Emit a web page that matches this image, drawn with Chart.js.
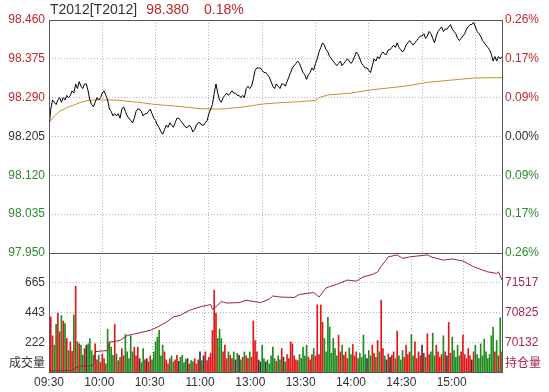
<!DOCTYPE html>
<html>
<head>
<meta charset="utf-8">
<script src="https://cdn.jsdelivr.net/npm/chart.js@4.4.0/dist/chart.umd.min.js"></script>
<style>
  html, body { margin: 0; padding: 0; background: #fff; }
  #wrap { position: relative; width: 549px; height: 392px; overflow: hidden; background: #fff; }
  #wrap canvas { position: absolute; left: 0; }
  #title { position: absolute; left: 50px; top: 1px; font: 14px 'Liberation Sans', 'Noto Sans CJK SC', sans-serif; color: #333; white-space: nowrap; }
  #title .up { color: #c0282d; }
</style>
</head>
<body>
<div id="wrap">
  <canvas id="priceChart" width="549" height="262" style="top:0"></canvas>
  <canvas id="volChart" width="549" height="152" style="top:240px"></canvas>
  <div id="title">T2012[T2012]<span class="up" id="lastPrice" style="margin-left:9px"></span><span class="up" id="lastPct" style="margin-left:15px"></span></div>
</div>
<script>
// previous settlement = 0.00% line
const PRE_SETTLE = 98.205;
const LAST_MINUTE = 255;

const timeLabels = ["09:30", "10:00", "10:30", "11:00", "13:00", "13:30", "14:00", "14:30", "15:00"];
const gridMinutes = [30, 60, 90, 120, 150, 180, 210, 240];

const priceTicks = [97.950, 98.035, 98.120, 98.205, 98.290, 98.375, 98.460];
const priceLabels = ["97.950", "98.035", "98.120", "98.205", "98.290", "98.375", "98.460"];
const pctLabels = ["0.26%", "0.17%", "0.09%", "0.00%", "0.09%", "0.17%", "0.26%"];

const VOL_MAX = 887;
const volTicks = [64, 222, 443, 665];
const volLabels = ["成交量", "222", "443", "665"];

const OI_MIN = 69440, OI_MAX = 72210;
const oiTicks = [69636, 70132, 70825, 71517];
const oiLabels = ["持仓量", "70132", "70825", "71517"];

// one price per minute, 09:30 .. 15:15
const price = [
  98.225, 98.265, 98.285, 98.280, 98.275, 98.285, 98.290, 98.280, 98.290, 98.285,
  98.295, 98.290, 98.295, 98.305, 98.300, 98.320, 98.310, 98.325, 98.315, 98.310,
  98.320, 98.320, 98.305, 98.285, 98.275, 98.270, 98.280, 98.290, 98.285, 98.290,
  98.300, 98.305, 98.295, 98.285, 98.265, 98.260, 98.250, 98.255, 98.250, 98.255,
  98.245, 98.265, 98.270, 98.260, 98.250, 98.245, 98.240, 98.235, 98.245, 98.260,
  98.265, 98.265, 98.260, 98.250, 98.255, 98.255, 98.260, 98.265, 98.255, 98.245,
  98.240, 98.230, 98.225, 98.215, 98.210, 98.220, 98.230, 98.225, 98.235, 98.230,
  98.225, 98.235, 98.245, 98.245, 98.240, 98.235, 98.230, 98.225, 98.225, 98.230,
  98.225, 98.215, 98.220, 98.230, 98.235, 98.235, 98.230, 98.230, 98.235, 98.240,
  98.255, 98.265, 98.275, 98.300, 98.320, 98.300, 98.285, 98.280, 98.290, 98.295,
  98.300, 98.295, 98.300, 98.305, 98.300, 98.300, 98.295, 98.295, 98.290, 98.295,
  98.290, 98.310, 98.315, 98.310, 98.315, 98.330, 98.350, 98.355, 98.355, 98.355,
  98.350, 98.345, 98.345, 98.340, 98.335, 98.325, 98.315, 98.310, 98.320, 98.315,
  98.310, 98.320, 98.320, 98.315, 98.325, 98.335, 98.345, 98.355, 98.360, 98.365,
  98.370, 98.365, 98.355, 98.345, 98.340, 98.330, 98.340, 98.345, 98.355, 98.350,
  98.365, 98.375, 98.390, 98.400, 98.410, 98.405, 98.395, 98.390, 98.380, 98.375,
  98.370, 98.365, 98.360, 98.365, 98.370, 98.360, 98.365, 98.370, 98.375, 98.370,
  98.365, 98.370, 98.380, 98.390, 98.385, 98.375, 98.365, 98.360, 98.355, 98.355,
  98.350, 98.345, 98.360, 98.375, 98.370, 98.380, 98.375, 98.385, 98.390, 98.385,
  98.385, 98.395, 98.395, 98.400, 98.405, 98.400, 98.410, 98.400, 98.395, 98.390,
  98.395, 98.405, 98.410, 98.415, 98.410, 98.405, 98.410, 98.415, 98.420, 98.425,
  98.425, 98.430, 98.420, 98.425, 98.435, 98.430, 98.420, 98.410, 98.425, 98.435,
  98.440, 98.445, 98.435, 98.440, 98.440, 98.445, 98.450, 98.440, 98.435, 98.430,
  98.420, 98.415, 98.420, 98.425, 98.430, 98.440, 98.445, 98.450, 98.450, 98.455,
  98.445, 98.435, 98.430, 98.425, 98.415, 98.410, 98.405, 98.400, 98.395, 98.385,
  98.370, 98.380, 98.370, 98.380, 98.375, 98.380
];

// average price line, read at these minutes
const avgMinutes = [0, 3, 6, 10, 14, 18, 22, 26, 30, 35, 40, 50, 60, 70, 85, 95, 100, 110, 120, 130, 140, 150, 152, 157, 170, 181, 200, 214, 239, 255];
const avgPrice = [98.235, 98.250, 98.260, 98.268, 98.274, 98.280, 98.284, 98.285, 98.285, 98.285, 98.284, 98.280, 98.275, 98.272, 98.266, 98.265, 98.266, 98.270, 98.276, 98.279, 98.281, 98.284, 98.290, 98.296, 98.300, 98.307, 98.315, 98.324, 98.333, 98.334];

// volume per minute
const volume = [
  1000, 410, 270, 200, 355, 440, 300, 420, 380, 360,
  250, 160, 225, 155, 425, 640, 225, 210, 200, 125,
  175, 200, 210, 250, 160, 125, 210, 90, 125, 70,
  135, 100, 60, 320, 225, 185, 125, 355, 135, 85,
  110, 175, 120, 280, 150, 100, 270, 150, 185, 120,
  185, 100, 70, 175, 90, 100, 75, 120, 90, 150,
  225, 260, 310, 120, 200, 150, 90, 60, 100, 120,
  75, 90, 125, 80, 110, 125, 70, 95, 100, 60,
  85, 75, 100, 60, 90, 150, 85, 120, 150, 85,
  110, 140, 310, 610, 440, 250, 320, 250, 150, 200,
  100, 150, 125, 100, 150, 90, 140, 125, 90, 110,
  150, 120, 100, 150, 110, 380, 235, 150, 90, 75,
  200, 100, 75, 90, 60, 120, 185, 100, 80, 120,
  90, 175, 110, 75, 130, 100, 225, 210, 120, 90,
  85, 130, 100, 185, 120, 200, 110, 90, 130, 175,
  120, 500, 130, 500, 370, 250, 150, 410, 335, 140,
  250, 175, 120, 275, 150, 200, 125, 150, 100, 180,
  130, 205, 120, 150, 100, 140, 110, 275, 130, 100,
  160, 120, 200, 140, 110, 235, 150, 535, 175, 120,
  90, 135, 110, 125, 150, 100, 305, 120, 90, 160,
  110, 200, 130, 150, 280, 120, 225, 100, 150, 120,
  200, 140, 110, 285, 130, 150, 290, 120, 200, 150,
  110, 130, 270, 150, 120, 370, 140, 260, 160, 110,
  200, 120, 150, 275, 130, 100, 175, 120, 90, 150,
  200, 130, 100, 210, 120, 245, 150, 100, 130, 270,
  335, 150, 235, 120, 405, 150
];

// open interest, read at these minutes
const oiMinutes = [0, 12, 17, 25, 26, 33, 34, 40, 44, 47, 57, 61, 66, 70, 74, 79, 85, 91, 92, 95, 97, 100, 107, 111, 119, 124, 126, 130, 138, 141, 149, 152, 156, 162, 168, 173, 177, 182, 185, 187, 189, 191, 196, 199, 203, 213, 215, 222, 227, 233, 239, 247, 252, 253, 255];
const oiValues = [69470, 69475, 69575, 69590, 69915, 69940, 70135, 70175, 70290, 70315, 70410, 70485, 70600, 70720, 70760, 70875, 70955, 71010, 70900, 70995, 71085, 71045, 71055, 71110, 71055, 71135, 71210, 71185, 71175, 71245, 71290, 71185, 71400, 71480, 71580, 71555, 71655, 71710, 71770, 71900, 72005, 72120, 72165, 72085, 72120, 72165, 72120, 72045, 72070, 72025, 71890, 71770, 71735, 71770, 71580];

const RED = "#c0282d", GREEN = "#2f8a2f", GRAY = "#333";
const OI_RED = "#a8284a";
const GRID = "#b4b4b4", FRAME = "#555";

Chart.defaults.font.family = "'Liberation Sans', 'Noto Sans CJK SC', sans-serif";
Chart.defaults.font.size = 12;
Chart.defaults.color = GRAY;

// title
const last = price[price.length - 1];
document.getElementById("lastPrice").textContent = last.toFixed(3);
document.getElementById("lastPct").textContent = ((last - PRE_SETTLE) / PRE_SETTLE * 100).toFixed(2) + "%";

// x ticks: dotted grid every 30 minutes, labels spread evenly
const labelPos = timeLabels.map((_, i) => i * LAST_MINUTE / timeLabels.length);
const xTicks = gridMinutes.concat(labelPos).sort((a, b) => a - b);

function xAxis(showLabels) {
  return {
    type: "linear",
    min: 0,
    max: LAST_MINUTE,
    offset: false,
    afterBuildTicks: s => { s.ticks = xTicks.map(v => ({ value: v })); },
    afterFit: s => { s.height = showLabels ? 20 : 0; },
    border: { display: false, dash: [1, 2] },
    grid: {
      drawTicks: false,
      color: ctx => ctx.tick && gridMinutes.includes(ctx.tick.value) ? GRID : "transparent"
    },
    ticks: {
      display: showLabels,
      autoSkip: false,
      maxRotation: 0,
      padding: 3,
      color: GRAY,
      callback: v => {
        const i = labelPos.indexOf(v);
        return i >= 0 ? timeLabels[i] : "";
      }
    }
  };
}

function yAxis(position, width, tickValues, labels, color, extra) {
  return Object.assign({
    position,
    afterBuildTicks: s => { s.ticks = tickValues.map(v => ({ value: v })); },
    afterFit: s => { s.width = width; s.paddingTop = 0; s.paddingBottom = 0; },
    border: { display: false },
    grid: { drawTicks: false, drawOnChartArea: false },
    ticks: {
      autoSkip: false,
      padding: position === "left" ? 4 : 3,
      color,
      callback: (v, i) => labels[i]
    }
  }, extra);
}

const priceColor = ctx => {
  const v = priceTicks[ctx.index];
  return v > PRE_SETTLE + 1e-9 ? RED : v < PRE_SETTLE - 1e-9 ? GREEN : GRAY;
};

const framePlugin = {
  id: "frame",
  afterDraw(chart) {
    const { ctx, chartArea: a } = chart;
    ctx.save();
    ctx.strokeStyle = FRAME;
    ctx.lineWidth = 1;
    ctx.strokeRect(Math.round(a.left) + 0.5, Math.round(a.top) + 0.5,
      Math.round(a.right - a.left), Math.round(a.bottom - a.top));
    ctx.restore();
  }
};

// price panel
new Chart(document.getElementById("priceChart"), {
  type: "line",
  data: {
    datasets: [
      {
        data: price.map((p, i) => ({ x: i, y: p })),
        borderColor: "#000",
        borderWidth: 1,
        pointRadius: 0,
        yAxisID: "y"
      },
      {
        data: avgMinutes.map((m, i) => ({ x: m, y: avgPrice[i] })),
        borderColor: "#c8902c",
        borderWidth: 1,
        pointRadius: 0,
        yAxisID: "y"
      }
    ]
  },
  options: {
    responsive: false,
    animation: false,
    events: [],
    layout: { padding: { top: 20, bottom: 9, left: 0, right: 0 } },
    plugins: { legend: { display: false }, tooltip: { enabled: false } },
    scales: {
      x: xAxis(false),
      y: yAxis("left", 49, priceTicks, priceLabels, priceColor, {
        min: priceTicks[0], max: priceTicks[priceTicks.length - 1],
        grid: { drawTicks: false, drawOnChartArea: true, color: GRID },
        border: { display: false, dash: [1, 2] }
      }),
      pct: yAxis("right", 47, priceTicks, pctLabels, priceColor, {
        min: priceTicks[0], max: priceTicks[priceTicks.length - 1]
      })
    }
  },
  plugins: [framePlugin]
});

// volume / open interest panel
const barColors = volume.map((v, i) => {
  const prev = i ? price[i - 1] : PRE_SETTLE;
  return price[i] > prev ? "#e01818" : price[i] < prev ? "#1f8c1f" : "#333";
});

new Chart(document.getElementById("volChart"), {
  type: "bar",
  data: {
    datasets: [
      {
        type: "line",
        data: oiMinutes.map((m, i) => ({ x: m, y: oiValues[i] })),
        borderColor: "#9c2440",
        borderWidth: 1,
        pointRadius: 0,
        yAxisID: "oi",
        order: 0
      },
      {
        data: volume.map((v, i) => ({ x: i, y: v })),
        backgroundColor: barColors,
        barThickness: 1,
        yAxisID: "vol",
        order: 1
      }
    ]
  },
  options: {
    responsive: false,
    animation: false,
    events: [],
    layout: { padding: { top: 13, bottom: 0, left: 0, right: 0 } },
    plugins: { legend: { display: false }, tooltip: { enabled: false } },
    scales: {
      x: xAxis(true),
      vol: yAxis("left", 49, volTicks, volLabels, GRAY, {
        min: 0, max: VOL_MAX,
        grid: {
          drawTicks: false, drawOnChartArea: true,
          color: ctx => ctx.index === 0 ? "transparent" : GRID
        },
        border: { display: false, dash: [1, 2] }
      }),
      oi: yAxis("right", 47, oiTicks, oiLabels, OI_RED, { min: OI_MIN, max: OI_MAX })
    }
  },
  plugins: [framePlugin]
});
</script>
</body>
</html>
